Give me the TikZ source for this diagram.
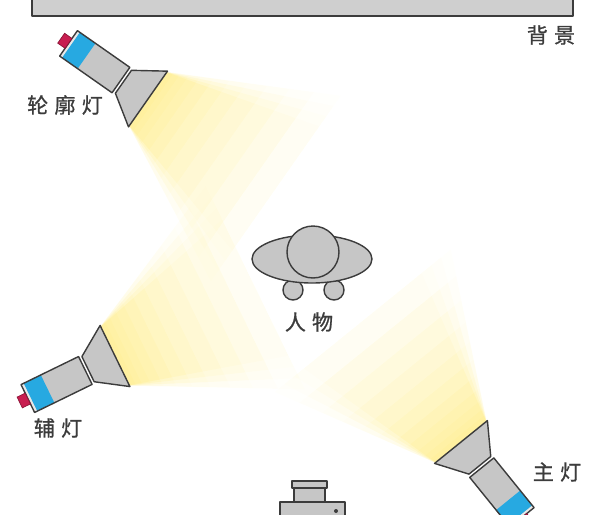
\documentclass[tikz,border=0pt]{standalone}
\usepackage{fontspec}
\newfontfamily\cjk[FakeBold=0.8]{Noto Sans CJK SC}

\definecolor{linegray}{HTML}{3C3C3C}
\definecolor{lampgray}{HTML}{C6C6C6}
\definecolor{stripgray}{HTML}{E8E8E8}
\definecolor{lampblue}{HTML}{27A9E1}
\definecolor{capred}{HTML}{C81E50}
\definecolor{backdropgray}{HTML}{CFCFCF}
\definecolor{textgray}{HTML}{3C3C3C}
\definecolor{beamyellow}{RGB}{255,225,60}

\newcommand{\chgap}{\hspace{3.5pt}}

\tikzset{
  outline/.style={draw=linegray, line width=0.8pt, line join=round},
  lampbody/.style={outline, fill=lampgray},
  beam/.style={fill=beamyellow, fill opacity=0.016},
  tag/.style={font=\cjk\fontsize{12}{14}\selectfont, text=textgray, inner sep=0pt},
  % a studio lamp pointing along +x, reflector opening at the origin
  lamp/.pic={
    % light cone, denser near the reflector
    \foreach \len in {6,12,20,30,42,56,72,90,110,132,156}
      \foreach \s in {0.28,0.36,0.44,0.52}
        \fill[beam] (-2,-32) -- (\len,{-32-\s*\len}) -- (\len,{32+\s*\len}) -- (-2,32) -- cycle;
    \draw[lampbody] (0,-34) -- (0,34) -- (-30,14) -- (-30,-14) -- cycle;
    \fill[lampgray] (-97,-15.5) rectangle (-33,15.5);
    \fill[stripgray] (-97,-15.5) rectangle (-94,15.5);
    \fill[lampblue] (-94,-15.5) rectangle (-75,15.5);
    \draw[outline] (-97,-15.5) rectangle (-33,15.5);
    \draw[fill=capred, draw=capred!70!black, line width=0.4pt] (-106,-6) rectangle (-97,6);
  }
}

\begin{document}
\begin{tikzpicture}[x=0.02cm, y=-0.02cm]
\useasboundingbox (0,0) rectangle (600,515);

% backdrop
\draw[outline, fill=backdropgray] (32,-10) rectangle (573,16);
\node[tag] (backdrop) at (551,35) {背\chgap 景};

% lamps
\pic[rotate=-35] at (148,99) {lamp};
\node[tag] (rimlabel) at (65,105) {轮\chgap 廓\chgap 灯};

\pic[rotate=26] at (115,356) {lamp};
\node[tag] (filllabel) at (58,428) {辅\chgap 灯};

\pic[rotate=129] at (461,442) {lamp};
\node[tag] (keylabel) at (557,472) {主\chgap 灯};

% subject seen from above
\draw[lampbody] (293,290) circle (10);
\draw[lampbody] (334,290) circle (10);
\draw[lampbody] (312,259) ellipse [x radius=60, y radius=24];
\draw[lampbody] (313,252) circle (26);
\node[tag] (person) at (309,322) {人\chgap 物};

% camera
\draw[lampbody] (280,502) rectangle (345,530);
\draw[lampbody] (294,488) rectangle (325,502);
\draw[lampbody] (292,481) rectangle (327,488);
\fill[linegray] (336,511) circle (2);

\end{tikzpicture}
\end{document}
